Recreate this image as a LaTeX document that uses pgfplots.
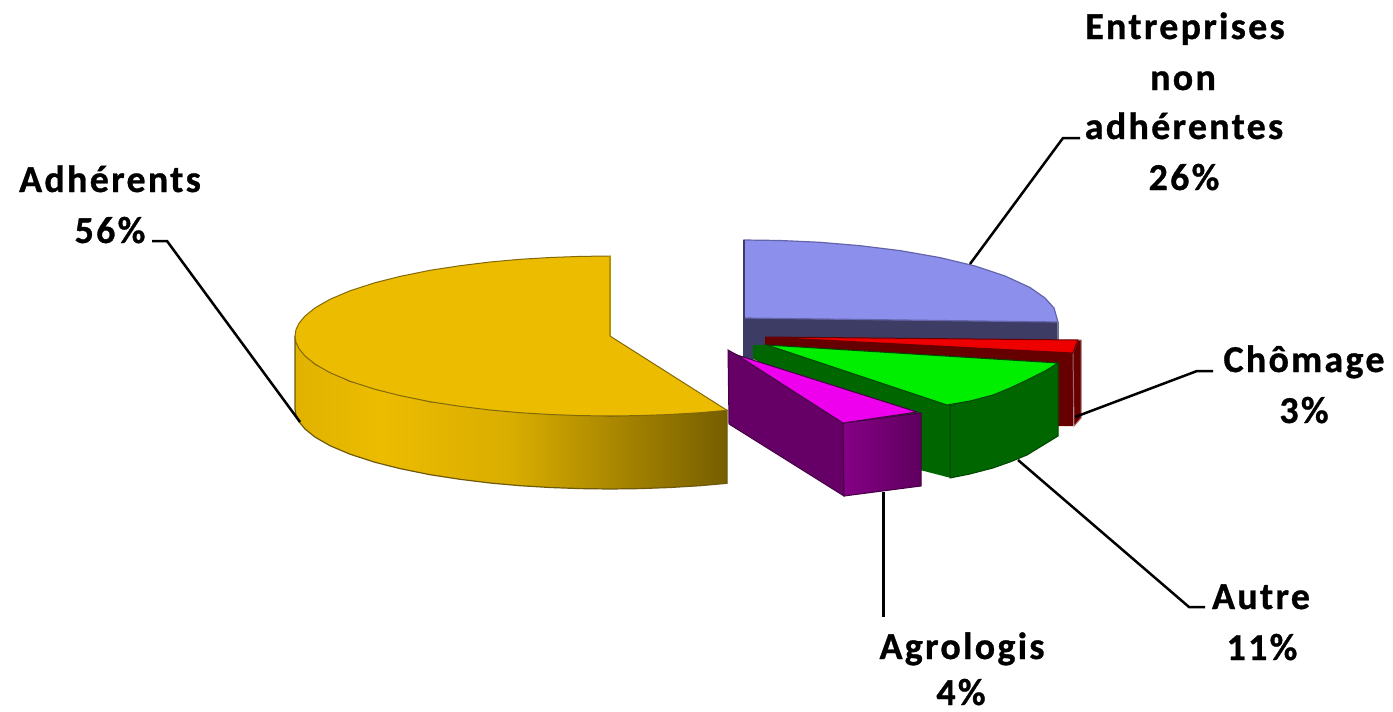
\documentclass[border=0pt]{standalone}
\usepackage{fontspec}
\setmainfont{Carlito}
\usepackage{pgfplots}
\pgfplotsset{compat=1.18}
\definecolor{yel}{HTML}{ECBC00}
\definecolor{bluetop}{RGB}{140,144,236}
\definecolor{blueside}{RGB}{60,60,100}
\definecolor{blueedge}{RGB}{100,100,170}
\definecolor{redtop}{RGB}{238,0,0}
\definecolor{redside}{RGB}{102,0,0}
\definecolor{greentop}{RGB}{0,238,0}
\definecolor{greenside}{RGB}{0,102,0}
\definecolor{greenedge}{RGB}{0,70,0}
\definecolor{magtop}{RGB}{238,0,238}
\definecolor{magside}{RGB}{102,0,102}
\definecolor{magedge}{RGB}{70,0,70}
\pgfdeclarehorizontalshading{yelside}{100bp}{color(0bp)=(yel!95!black); color(25bp)=(yel!95!black); color(35bp)=(yel); color(50bp)=(yel!92!black); color(75bp)=(yel!50!black); color(100bp)=(yel!50!black)}
\pgfdeclarehorizontalshading{magfront}{100bp}{color(0bp)=(magtop!56!black); color(25bp)=(magtop!56!black); color(75bp)=(magtop!40!black); color(100bp)=(magtop!40!black)}
\tikzset{lab/.style={font=\fontsize{38}{50}\selectfont\bfseries\addfontfeatures{LetterSpace=6,FakeBold=0.8}, anchor=base, text=black, inner sep=0pt},
 lead/.style={draw=black, line width=2.5pt, line join=miter}}
\begin{document}
\begin{tikzpicture}
\path (0,0) rectangle (1393pt,712pt);
\begin{axis}[
  at={(0,0)}, anchor=south west, scale only axis,
  width=1393pt, height=712pt,
  xmin=0, xmax=1393, ymin=0, ymax=712, y dir=reverse,
  axis lines=none, clip=false,
]
% blue back slice
\addplot[fill=blueside, draw=none] coordinates {(743,318)(1058,322)(1058,352)(743,360)} -- cycle;
\addplot[fill=bluetop, draw=blueedge, line width=1.2pt] coordinates {(744,240)(780,240.5)(820,242.3)(860,245.7)(900,250.6)(940,257.6)(975,266)(1005,276)(1030,287.5)(1045,298)(1054,308)(1058,322)(744,318)} -- cycle;
\addplot[draw=blueside, line width=2pt] coordinates {(744,240)(744,360)};
\addplot[draw=blueside!70!white, line width=1.5pt] coordinates {(1058,322)(1058,340)};
% red slice
\addplot[fill=redside, draw=none] coordinates {(765,337)(1073,353)(1073,426)(1058,426)(1058,400)(765,345)} -- cycle;
\addplot[fill=redside, draw=redside!60!white, line width=1pt] coordinates {(1073,353)(1078,340)(1081,340)(1081,418)(1074,426)} -- cycle;
\addplot[fill=redtop, draw=redside, line width=1pt] coordinates {(765,337)(1078,340)(1073,353)} -- cycle;
% green slice
\addplot[fill=greenside, draw=none] coordinates {(753,345)(767,345)(951,405)(951,478)(920,470)(753,358)} -- cycle;
\addplot[fill=greenside, draw=greenedge, line width=1pt] coordinates {(950,406)(1058,363)(1058,436)(1045,444)(1027,455)(1010,462)(993,468)(970,474)(950,478)} -- cycle;
\addplot[fill=greentop, draw=greenedge, line width=1pt] coordinates {(767,345)(1058,363)(1045,371)(1027,380)(1010,388)(993,395)(970,401)(947,405)} -- cycle;
% magenta slice
\addplot[fill=magside, draw=magedge, line width=1pt] coordinates {(728,350)(737,355)(843,423)(844,496)(729,424)} -- cycle;
\addplot[shade, shading=magfront, draw=magedge, line width=1pt] coordinates {(843,423)(921,413)(921,486)(844,496)} -- cycle;
\addplot[fill=magtop, draw=magedge, line width=1pt] coordinates {(737,355)(917,412)(843,423)} -- cycle;
% yellow slice: side wall
\addplot[shade, shading=yelside, draw={rgb,255:red,110;green,90;blue,10}, line width=1.2pt] coordinates {(295,336)(295,409)(296,415.4)(299,421.7)(305,429)(315,437.1)(330,445.7)(350,454.2)(375,462.3)(400,468.6)(430,474.7)(460,479.3)(490,483)(520,485.7)(550,487.5)(580,488.6)(610,489)(640,488.6)(670,487.5)(700,485.7)(727,483.3)(727,410.3)(700,412.7)(610,416)(430,401.7)(350,381.2)(315,364.1)(296,342.4)} -- cycle;
% yellow slice: top
\addplot[fill=yel, draw={rgb,255:red,130;green,105;blue,10}, line width=1pt] coordinates {(610,256)(580,256.4)(550,257.5)(520,259.3)(490,262)(460,265.7)(430,270.3)(400,276.4)(375,282.7)(350,290.8)(330,299.3)(315,307.9)(305,316)(299,323.3)(296,329.6)(295,336)(296,342.4)(299,348.7)(305,356)(315,364.1)(330,372.7)(350,381.2)(375,389.3)(400,395.6)(430,401.7)(460,406.3)(490,410)(520,412.7)(550,414.5)(580,415.6)(610,416)(640,415.6)(670,414.5)(700,412.7)(727,410.3)(610,336)} -- cycle;
\addplot[draw={rgb,255:red,184;green,144;blue,0}, line width=2.5pt] coordinates {(610,256)(610,336)};
% leaders
\addplot[lead] coordinates {(152,241)(167,241)(300,422)};
\addplot[lead] coordinates {(1080,138)(1063,138)(970,264)};
\addplot[lead] coordinates {(1075,417)(1197,371)(1213,371)};
\addplot[lead] coordinates {(1018,460)(1189,607)(1205,607)};
\addplot[lead, line width=3pt] coordinates {(883,492)(883,617)};
% labels
\node[lab] at (axis cs:110,192) {Adhérents};
\node[lab] at (axis cs:110,243) {56\%};
\node[lab] at (axis cs:1185,39) {Entreprises};
\node[lab] at (axis cs:1183,90) {non};
\node[lab] at (axis cs:1184,139) {adhérentes};
\node[lab] at (axis cs:1184,190) {26\%};
\node[lab] at (axis cs:1304,372) {Chômage};
\node[lab] at (axis cs:1304,423) {3\%};
\node[lab] at (axis cs:1261,609) {Autre};
\node[lab] at (axis cs:1262,660) {11\%};
\node[lab] at (axis cs:962,659) {Agrologis};
\node[lab] at (axis cs:961,705) {4\%};
\end{axis}
\end{tikzpicture}
\end{document}
